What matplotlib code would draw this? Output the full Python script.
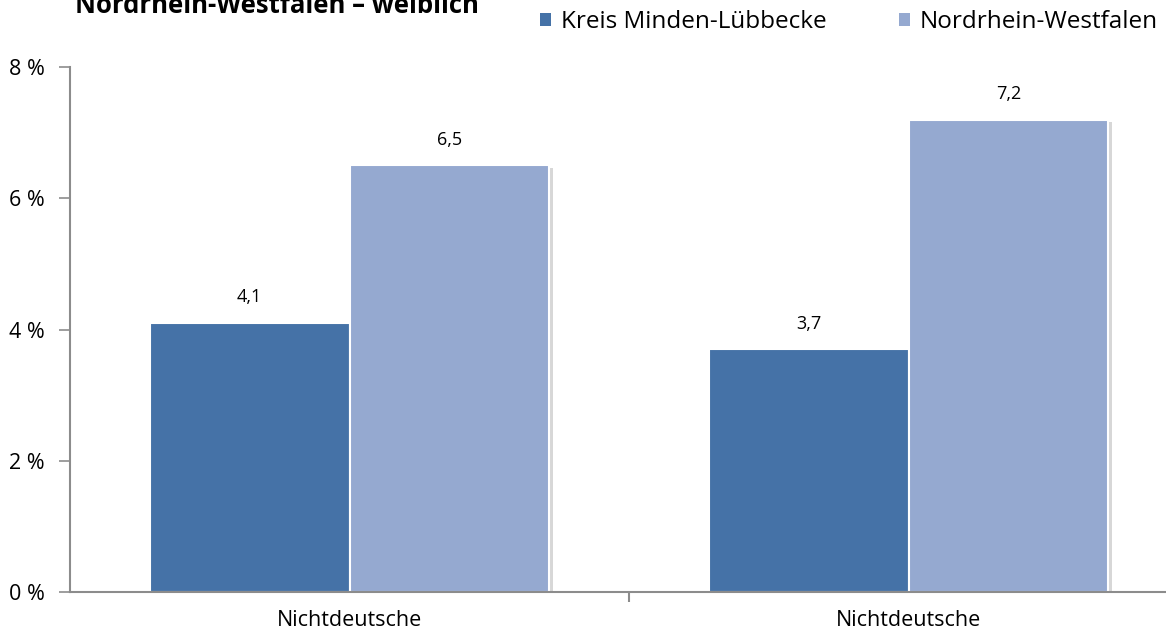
import matplotlib
matplotlib.use("Agg")
import matplotlib.pyplot as plt
import matplotlib.patheffects as pe
from matplotlib.patches import Patch

categories = ["Nichtdeutsche", "Nichtdeutsche"]
series_names = ["Kreis Minden-Lübbecke", "Nordrhein-Westfalen"]
kreis = [4.1, 3.7]
nrw = [6.5, 7.2]
yticks = [0, 2, 4, 6, 8]
title = "Nordrhein-Westfalen – weiblich"

colors = ["#4572A7", "#95A9D0"]
plt.rcParams['font.family'] = ['Open Sans', 'DejaVu Sans']

W, H = 1166, 637
fig = plt.figure(figsize=(W / 100, H / 100), dpi=100)
left, right, bottom, top = 70, 1188, 592, 67
ax = fig.add_axes([left / W, 1 - bottom / H, (right - left) / W, (bottom - top) / H])

bw = 0.357
x = list(range(len(categories)))
shadow = [pe.SimplePatchShadow(offset=(2.5, -1.5), shadow_rgbFace="#b0b0b0", alpha=0.5), pe.Normal()]
for i, (vals, col) in enumerate(zip([kreis, nrw], colors)):
    xs = [xi + (i - 0.5) * bw for xi in x]
    bars = ax.bar(xs, vals, width=bw, color=col, edgecolor="white", linewidth=1.5,
                  label=series_names[i], zorder=2)
    for b in bars:
        b.set_path_effects(shadow)
    ax.bar_label(bars, labels=[f"{v:.1f}".replace(".", ",") for v in vals],
                 padding=12, fontsize=13, color="#000000")

ax.set_xlim(-0.5, 1.5)
ax.set_ylim(0, 8)
ax.set_yticks(yticks)
ax.set_yticklabels([f"{t} %" for t in yticks], fontsize=15.5)
ax.set_xticks([0.5])
ax.set_xticklabels([""])
ax.set_xticks(x, minor=True)
ax.set_xticklabels(categories, minor=True, fontsize=15.5)
ax.tick_params(axis="x", which="minor", length=0, pad=13)
ax.tick_params(axis="x", which="major", length=7, width=1.5, color="#8c8c8c", direction="out")
ax.tick_params(axis="y", length=8, width=1.2, color="#8c8c8c", direction="out", pad=10)

for s in ["top", "right"]:
    ax.spines[s].set_visible(False)
for s in ["left", "bottom"]:
    ax.spines[s].set_color("#8c8c8c")
    ax.spines[s].set_linewidth(1.5)

fig.text(75 / W, 1 - 13 / H, title, fontsize=18.5, fontweight="bold", va="baseline", ha="left")

handles = [Patch(facecolor=c, edgecolor="none") for c in colors]
fig.legend(handles, series_names, ncol=2, frameon=False, loc="center right",
           bbox_to_anchor=(1158 / W, 1 - 22 / H), fontsize=17.5, handlelength=0.45,
           handleheight=0.45, handletextpad=0.4, columnspacing=3.0, borderpad=0, borderaxespad=0)

fig.savefig("out.png", dpi=100)
